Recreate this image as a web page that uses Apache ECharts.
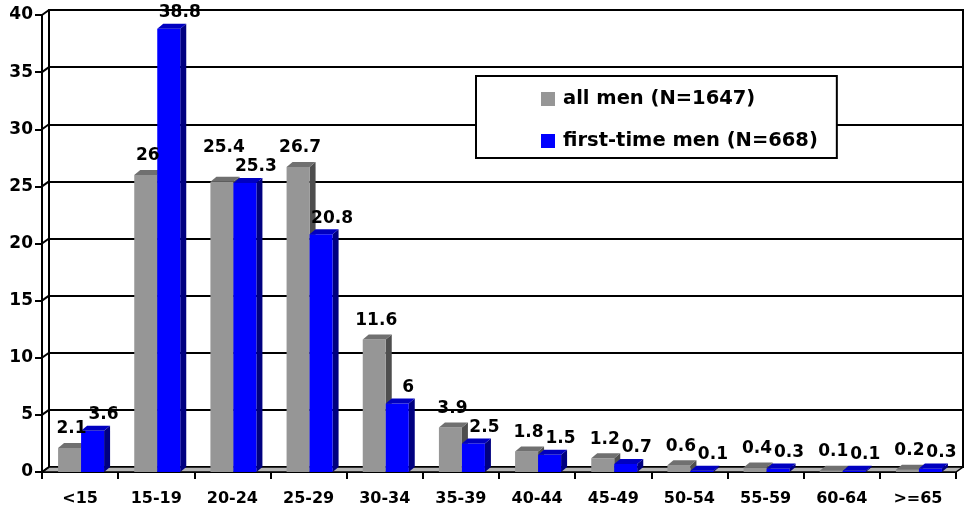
<!DOCTYPE html>
<html>
<head>
<meta charset="utf-8">
<script src="https://cdn.jsdelivr.net/npm/echarts@6/dist/echarts.min.js"></script>
<style>
  html, body { margin: 0; padding: 0; background: #fff; }
  #chart { width: 964px; height: 509px; }
</style>
</head>
<body>
<div id="chart"></div>
<script>
// Age distribution of men, in percent
const ageGroups = ['<15', '15-19', '20-24', '25-29', '30-34', '35-39', '40-44', '45-49', '50-54', '55-59', '60-64', '>=65'];
const allMen = [2.1, 26, 25.4, 26.7, 11.6, 3.9, 1.8, 1.2, 0.6, 0.4, 0.1, 0.2];
const firstTimeMen = [3.6, 38.8, 25.3, 20.8, 6, 2.5, 1.5, 0.7, 0.1, 0.3, 0.1, 0.3];
const yTicks = [0, 5, 10, 15, 20, 25, 30, 35, 40];
const seriesNames = ['all men (N=1647)', 'first-time men (N=668)'];

const FONT = '"DejaVu Sans", "Liberation Sans", Arial, sans-serif';
const DEPTH_X = 7, DEPTH_Y = 5;   // offset of the back wall from the front plane
const BAR_DX = 6, BAR_DY = 5;     // bar depth
const BAR_FRAC = 0.302;           // bar width as share of a category
const faces = [
  { front: '#969696', top: '#707070', side: '#4e4e4e' },
  { front: '#0000ff', top: '#0000c0', side: '#000080' }
];
const values = [allMen, firstTimeMen];

const measureCtx = document.createElement('canvas').getContext('2d');
measureCtx.font = 'bold 17px ' + FONT;
function textWidth(s) { return measureCtx.measureText(s).width; }

// anchor for a value label above a bar
function labelPos(api, s, idx) {
  const base = api.coord([idx, 0]);
  const top = api.coord([idx, values[s][idx]]);
  const bw = api.size([1, 0])[0] * BAR_FRAC;
  const cx = base[0] + 1 + (s === 0 ? -bw / 2 : bw / 2);
  return s === 0 ? [cx + 2, top[1] - 19] : [cx + 11, top[1] - 16];
}

function renderBar(s) {
  return function (params, api) {
    const idx = params.dataIndex;
    const v = api.value(1);
    const base = api.coord([idx, 0]);
    const top = api.coord([idx, v]);
    const bw = api.size([1, 0])[0] * BAR_FRAC;
    const x0 = base[0] + 1 - bw + s * bw;
    const x1 = x0 + bw;
    const yT = top[1], yB = base[1];
    const c = faces[s];
    const children = [
      { type: 'polygon', shape: { points: [[x1, yT], [x1 + BAR_DX, yT - BAR_DY], [x1 + BAR_DX, yB - BAR_DY], [x1, yB]] }, style: { fill: c.side } },
      { type: 'rect', shape: { x: x0, y: yT, width: bw, height: yB - yT }, style: { fill: c.front } },
      { type: 'polygon', shape: { points: [[x0, yT], [x1, yT], [x1 + BAR_DX, yT - BAR_DY], [x0 + BAR_DX, yT - BAR_DY]] }, style: { fill: c.top } }
    ];
    const txt = String(values[s][idx]);
    let p = labelPos(api, s, idx);
    if (s === 0) {
      // lift the grey label when it would collide with the blue one
      const q = labelPos(api, 1, idx);
      const other = String(values[1][idx]);
      const overlapX = Math.abs(p[0] - q[0]) < (textWidth(txt) + textWidth(other)) / 2 - 3;
      if (overlapX && Math.abs(p[1] - q[1]) < 18) p = [p[0], q[1] - 19];
    }
    children.push({
      type: 'text', z2: 100,
      style: { text: txt, x: p[0], y: p[1], align: 'center', verticalAlign: 'middle', font: 'bold 17px ' + FONT, fill: '#000' }
    });
    return { type: 'group', children };
  };
}

// floor plane and the short edges joining front ticks to the back wall
function renderFrame(params, api) {
  const cs = params.coordSys;
  const v = api.value(1);
  const y = api.coord([0, v])[1];
  const x = cs.x;
  const children = [];
  if (v === 0) {
    const xr = cs.x + cs.width;
    children.push({
      type: 'polygon',
      shape: { points: [[x, y], [xr, y], [xr + DEPTH_X, y - DEPTH_Y], [x + DEPTH_X, y - DEPTH_Y]] },
      style: { fill: '#b4b4b4', stroke: '#000', lineWidth: 1.5 }
    });
  }
  children.push({ type: 'line', shape: { x1: x, y1: y, x2: x + DEPTH_X, y2: y - DEPTH_Y }, style: { stroke: '#000', lineWidth: 2 } });
  return { type: 'group', children };
}

const chart = echarts.init(document.getElementById('chart'), null, { renderer: 'canvas' });
const axisText = { fontFamily: FONT, fontWeight: 'bold', color: '#000' };

chart.setOption({
  animation: false,
  backgroundColor: '#fff',
  grid: [
    { left: 42, right: 8, top: 15, bottom: 37 },
    { left: 49, right: 1, top: 10, bottom: 42, show: true, borderColor: '#000', borderWidth: 2, backgroundColor: '#fff', z: 0 }
  ],
  legend: {
    data: seriesNames,
    orient: 'vertical',
    left: 476, top: 76,
    padding: [12, 19, 6, 65],
    itemGap: 20,
    itemWidth: 14, itemHeight: 14,
    icon: 'rect',
    backgroundColor: '#fff',
    borderColor: '#000',
    borderWidth: 2,
    textStyle: { fontFamily: FONT, fontWeight: 'bold', fontSize: 19.5, lineHeight: 22, color: '#000', padding: [0, 0, 0, 3] }
  },
  xAxis: [
    {
      type: 'category', gridIndex: 0, data: ageGroups, boundaryGap: true,
      axisLine: { lineStyle: { color: '#000', width: 2 } },
      axisTick: { show: true, length: 7, interval: 0, lineStyle: { color: '#000', width: 2 } },
      axisLabel: Object.assign({ fontSize: 16, margin: 19, interval: 0 }, axisText),
      splitLine: { show: false }
    },
    {
      type: 'category', gridIndex: 1, data: ageGroups,
      axisLine: { show: false }, axisTick: { show: false }, axisLabel: { show: false }, splitLine: { show: false }
    }
  ],
  yAxis: [
    {
      type: 'value', gridIndex: 0, min: 0, max: 40, interval: 5,
      axisLine: { show: true, lineStyle: { color: '#000', width: 2 } },
      axisTick: { show: true, length: 7, lineStyle: { color: '#000', width: 2 } },
      axisLabel: Object.assign({ fontSize: 17, margin: 9 }, axisText),
      splitLine: { show: false }
    },
    {
      type: 'value', gridIndex: 1, min: 0, max: 40, interval: 5,
      axisLine: { show: false }, axisTick: { show: false }, axisLabel: { show: false },
      splitLine: { show: true, lineStyle: { color: '#000', width: 2 } }
    }
  ],
  series: [
    {
      name: 'frame', type: 'custom', xAxisIndex: 0, yAxisIndex: 0, z: 1, silent: true,
      data: yTicks.map(v => [0, v]),
      renderItem: renderFrame
    },
    {
      name: seriesNames[0], type: 'custom', xAxisIndex: 0, yAxisIndex: 0, z: 2,
      itemStyle: { color: faces[0].front },
      data: allMen.map((v, i) => [i, v]),
      renderItem: renderBar(0)
    },
    {
      name: seriesNames[1], type: 'custom', xAxisIndex: 0, yAxisIndex: 0, z: 2,
      itemStyle: { color: faces[1].front },
      data: firstTimeMen.map((v, i) => [i, v]),
      renderItem: renderBar(1)
    }
  ]
});
</script>
</body>
</html>
